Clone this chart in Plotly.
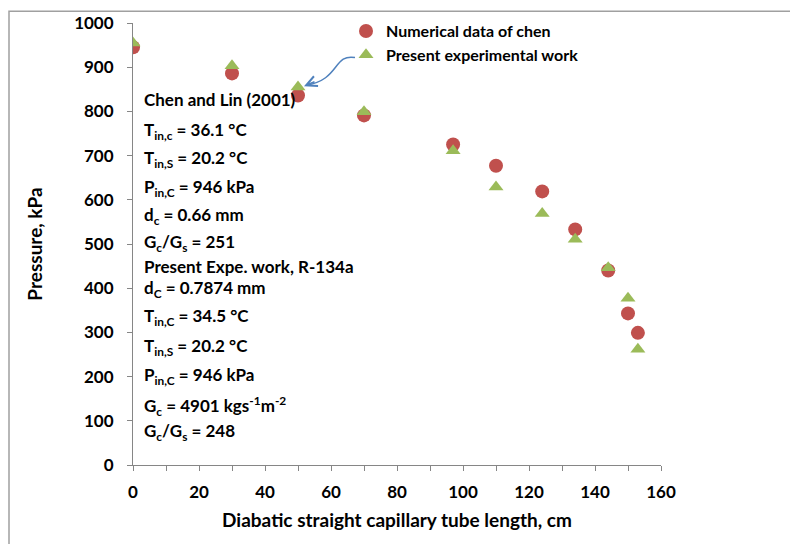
import plotly.graph_objects as go

# ---- data ----
length_chen = [0, 30, 50, 70, 97, 110, 124, 134, 144, 150, 153]
pressure_chen = [945, 886, 836, 791, 725, 677, 619, 533, 440, 343, 299]
length_exp = [0, 30, 50, 70, 97, 110, 124, 134, 144, 150, 153]
pressure_exp = [955, 903, 855, 799, 711, 629, 569, 511, 446, 377, 262]

x_ticks = [0, 20, 40, 60, 80, 100, 120, 140, 160]
y_ticks = [0, 100, 200, 300, 400, 500, 600, 700, 800, 900, 1000]

RED = "#C0504D"
GREEN = "#9BBB59"
FONT = "Lato, Carlito, Calibri, sans-serif"

# pixel helpers for decorations (plot area 133..661 x 17..465)
L, R, T, B = 133, 661, 17, 465
W, H = 790, 544
def px2x(px):
    return (px - L) / (R - L) * 160
def py2y(py):
    return (B - py) / (B - T) * 1000
def px2paper(px):
    return (px - L) / (R - L)
def py2paper(py):
    return (B - py) / (B - T)

fig = go.Figure()
fig.add_trace(go.Scatter(
    x=length_chen, y=pressure_chen, mode="markers",
    name="Numerical data of chen",
    marker=dict(symbol="circle", size=14, color=RED),
))
fig.add_trace(go.Scatter(
    x=length_exp, y=pressure_exp, mode="markers",
    name="Present experimental work",
    marker=dict(symbol="triangle-up", size=13, color=GREEN),
))

axis_common = dict(
    showgrid=False, zeroline=False, showline=True,
    linecolor="#868686", linewidth=1,
    ticks="outside", ticklen=5, tickcolor="#868686",
    tickfont=dict(family=FONT, size=17, color="#000", weight="bold"),
)

fig.update_xaxes(
    range=[0, 160], tickvals=x_ticks, ticktext=[str(v) for v in x_ticks],
    minor=dict(ticks="outside", dtick=10, ticklen=5, tickcolor="#868686"),
    title=dict(text="Diabatic straight capillary tube length, cm",
               font=dict(family=FONT, size=19, color="#000", weight="bold"),
               standoff=12),
    ticklabelstandoff=7,
    **axis_common,
)
fig.update_yaxes(
    range=[0, 1000], tickvals=y_ticks, ticktext=[str(v) for v in y_ticks],
    title=dict(text="Pressure, kPa",
               font=dict(family=FONT, size=19, color="#000", weight="bold"),
               standoff=26),
    ticklabelstandoff=10,
    **axis_common,
)

# text block
lines = [
    ("Chen and Lin (2001)", 103),
    ("T<sub>in,c</sub> = 36.1 °C", 134),
    ("T<sub>in,S</sub> = 20.2 °C", 163),
    ("P<sub>in,C</sub> = 946 kPa", 192),
    ("d<sub>c</sub> = 0.66 mm", 221),
    ("G<sub>c</sub>/G<sub>s</sub> = 251", 248),
    ("Present Expe. work, R-134a", 272),
    ("d<sub>C</sub> = 0.7874 mm", 295),
    ("T<sub>in,C</sub> = 34.5 °C", 323),
    ("T<sub>in,S</sub> = 20.2 °C", 353),
    ("P<sub>in,C</sub> = 946 kPa", 383),
    ("G<sub>c</sub> = 4901 kgs<sup>-1</sup>m<sup>-2</sup>", 413),
    ("G<sub>c</sub>/G<sub>s</sub> = 248", 440),
]
for txt, base in lines:
    fig.add_annotation(
        x=px2x(142), y=py2y(base - 8), xref="x", yref="y",
        text=txt, showarrow=False, xanchor="left", yanchor="middle",
        font=dict(family=FONT, size=17, color="#000", weight="bold"),
    )

# curved arrow from legend to the experimental point
p0 = (px2x(355), py2y(52))
c1 = (px2x(333), py2y(48))
c2 = (px2x(340), py2y(75))
p1 = (px2x(306), py2y(80))
fig.add_shape(
    type="path", xref="x", yref="y",
    path=f"M {p0[0]},{p0[1]} C {c1[0]},{c1[1]} {c2[0]},{c2[1]} {p1[0]},{p1[1]}",
    line=dict(color="#4F81BD", width=1.5),
)
fig.add_annotation(
    x=px2x(304), y=py2y(81), ax=12, ay=-5, xref="x", yref="y",
    text="", showarrow=True, arrowhead=5, arrowsize=1.4, arrowwidth=1.5,
    arrowcolor="#4F81BD",
)

# chart area border
fig.add_shape(
    type="rect", xref="paper", yref="paper",
    x0=px2paper(9), x1=px2paper(820), y0=py2paper(560), y1=py2paper(5),
    line=dict(color="#A0A0A0", width=1.5), fillcolor="rgba(0,0,0,0)",
    layer="below",
)

fig.update_layout(
    width=W, height=H,
    margin=dict(l=L, r=W - R, t=T, b=H - B),
    paper_bgcolor="white", plot_bgcolor="white",
    font=dict(family=FONT, color="#000"),
    legend=dict(
        x=px2paper(346), y=py2paper(8), xanchor="left", yanchor="top",
        bgcolor="rgba(0,0,0,0)",
        font=dict(family=FONT, size=16, color="#000", weight="bold"),
        itemwidth=30, tracegroupgap=0,
    ),
    showlegend=True,
)

fig.write_html("out.html")
